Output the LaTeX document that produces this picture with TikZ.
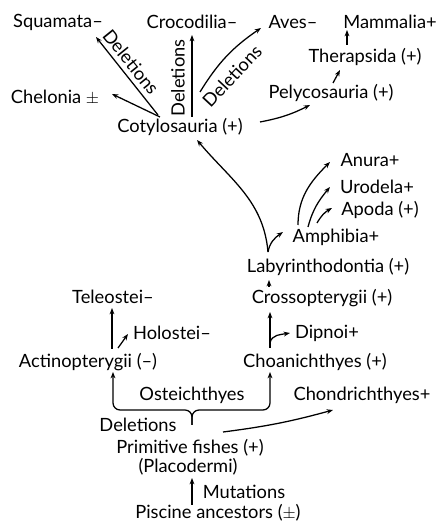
\documentclass[tikz,border=0pt]{standalone}
\usepackage{fontspec}
\setmainfont{Lato}
\usepackage{tikz}
\usetikzlibrary{arrows.meta,positioning}

\begin{document}
\begin{tikzpicture}[x=0.025cm,y=0.025cm,
    taxon/.style={inner sep=1pt,font=\fontsize{13}{15}\selectfont},
    arr/.style={-{Stealth[length=4.5pt,width=3.4pt]},line width=0.9pt}]
  \useasboundingbox (0,0) rectangle (439,524);
  % reptiles, birds, mammals
  \node[taxon] (squamata) at (58,502) {Squamata\textendash};
  \node[taxon] (crocodilia) at (192,502) {Crocodilia\textendash};
  \node[taxon] (aves) at (293,502) {Aves\textendash};
  \node[taxon] (mammalia) at (390,502) {Mammalia+};
  \node[taxon] (therapsida) at (365,467) {Therapsida (+)};
  \node[taxon] (pelyco) at (331,431) {Pelycosauria (+)};
  \node[taxon] (chelonia) at (55,427) {Chelonia $\pm$};
  \node[taxon] (cotylo) at (180,397) {Cotylosauria (+)};
  % amphibians
  \node[taxon] (anura) at (370,364) {Anura+};
  \node[taxon] (urodela) at (377,337) {Urodela+};
  \node[taxon] (apoda) at (380,314) {Apoda (+)};
  \node[taxon] (amphibia) at (336,287) {Amphibia+};
  \node[taxon] (labyr) at (328,257) {Labyrinthodontia (+)};
  % fishes
  \node[taxon] (crosso) at (322,226) {Crossopterygii (+)};
  \node[taxon] (dipnoi) at (327,191) {Dipnoi+};
  \node[taxon] (teleostei) at (113,227) {Teleostei\textendash};
  \node[taxon] (holostei) at (172,191) {Holostei\textendash};
  \node[taxon] (actino) at (88,162) {Actinopterygii (\textendash)};
  \node[taxon] (choan) at (315,162) {Choanichthyes (+)};
  \node[taxon] (osteich) at (192,129) {Osteichthyes};
  \node[taxon] (chondr) at (362,129) {Chondrichthyes+};
  \node[taxon] (deltxt) at (138,99) {Deletions};
  \node[taxon] (primitive) at (190,76) {Primitive fishes (+)};
  \node[taxon] (placo) at (188,57) {(Placodermi)};
  \node[taxon] (mutations) at (244,32) {Mutations};
  \node[taxon] (piscine) at (218,11) {Piscine ancestors ($\pm$)};
  % labels on the deletion arrows
  \node[taxon,rotate=-51] (delsquam) at (131,462) {Deletions};
  \node[taxon,rotate=90] (delcroc) at (178,446) {Deletions};
  \node[taxon,rotate=47] (delaves) at (232,448) {Deletions};
  \coordinate (cusp) at ([shift={(0,-30)}]osteich.center);

  % connectors, bottom up
  \draw[arr] ([shift={(-26,8)}]piscine.center) -- ([shift={(4,-11)}]placo.center);
  \draw[arr,rounded corners=5pt] (cusp) |- ([shift={(25,-48)}]actino.center)
    -- ([shift={(25,-10)}]actino.center);
  \draw[arr,rounded corners=5pt] (cusp) |- ([shift={(-45,-48)}]choan.center)
    -- ([shift={(-45,-10)}]choan.center);
  \draw[arr] ([shift={(33,16)}]primitive.center) to[bend right=4] ([shift={(-29,-15)}]chondr.center);
  \draw[arr] ([shift={(24,13)}]actino.center) -- ([shift={(-1,-11)}]teleostei.center);
  \draw[arr] ([shift={(30,14)}]actino.center) -- ([shift={(-44,-1)}]holostei.center);
  \draw[arr] ([shift={(-45,14)}]choan.center) -- ([shift={(-52,-14)}]crosso.center);
  \draw[arr] ([shift={(-45,19)}]choan.center) to[out=80,in=190] ([shift={(-37,0)}]dipnoi.center);
  \draw[arr] ([shift={(-53,11)}]crosso.center) -- ([shift={(-59,-13)}]labyr.center);
  \draw[arr] ([shift={(-60,15)}]labyr.center) to[out=95,in=-50] ([shift={(17,-13)}]cotylo.center);
  \draw[arr] ([shift={(-60,15)}]labyr.center) to[out=80,in=215] ([shift={(-53,5)}]amphibia.center);
  \draw[arr] ([shift={(-38,12)}]amphibia.center) to[out=90,in=225] ([shift={(-40,-2)}]anura.center);
  \draw[arr] ([shift={(-28,10)}]amphibia.center) to[out=75,in=230] ([shift={(-47,0)}]urodela.center);
  \draw[arr] ([shift={(-19,14)}]amphibia.center) to[out=60,in=210] ([shift={(-48,2)}]apoda.center);
  \draw[arr] ([shift={(-20,10)}]cotylo.center) -- ([shift={(57,3)}]chelonia.center);
  \draw[arr] ([shift={(-22,12)}]cotylo.center) -- ([shift={(38,-15)}]squamata.center);
  \draw[arr] ([shift={(12,10)}]cotylo.center) -- ([shift={(0,-13)}]crocodilia.center);
  \draw[arr] ([shift={(20,35)}]cotylo.center) to[bend left=12] ([shift={(-32,-6)}]aves.center);
  \draw[arr] ([shift={(80,5)}]cotylo.center) to[bend right=8] ([shift={(-21,-12)}]pelyco.center);
  \draw[arr] ([shift={(2,10)}]pelyco.center) -- ([shift={(-25,-13)}]therapsida.center);
  \draw[arr] ([shift={(-18,12)}]therapsida.center) -- ([shift={(-43,-8)}]mammalia.center);
\end{tikzpicture}
\end{document}
